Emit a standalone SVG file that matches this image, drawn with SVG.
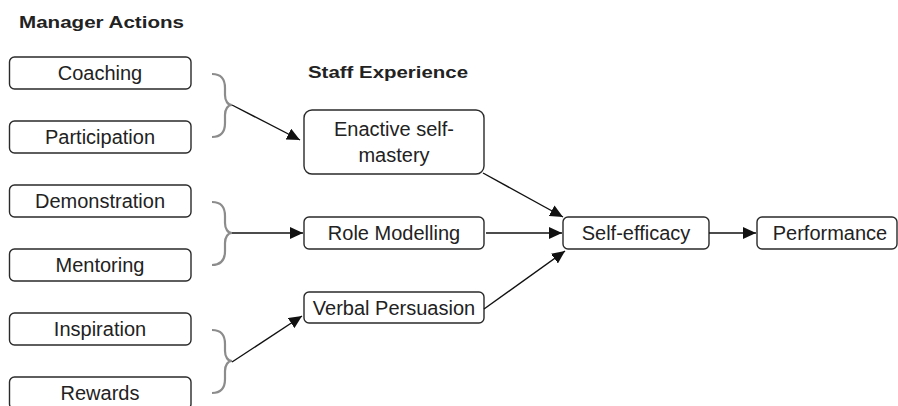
<svg xmlns="http://www.w3.org/2000/svg" xmlns:xlink="http://www.w3.org/1999/xlink" width="898" height="406" viewBox="0 0 898 406">
<style>
.box{fill:#fff;stroke:#2a2a2a;stroke-width:1.4}
.t{font-family:"Liberation Sans",Arial,sans-serif;font-size:20px;fill:#222;text-anchor:middle}
.h{font-family:"Liberation Sans",Arial,sans-serif;font-size:16.5px;font-weight:bold;fill:#222}
.brace{fill:none;stroke:#8c8c8c;stroke-width:2.2}
.c{fill:none;stroke:#111;stroke-width:1.4}
</style>
<defs>
<marker id="ah" markerUnits="userSpaceOnUse" markerWidth="14" markerHeight="12" refX="13" refY="6" orient="auto">
<path d="M0,0 L13,6 L0,12 z" fill="#111"/>
</marker>
<path id="br" d="M0,-31 C10,-31 13,-25 13,-17 L13,-10 C13,-4 16,0 20,0 C16,0 13,4 13,10 L13,18 C13,26 10,32 0,32"/>
</defs>
<rect width="898" height="406" fill="#fff"/>
<text class="h" x="19" y="28" textLength="165" lengthAdjust="spacingAndGlyphs">Manager Actions</text>
<text class="h" x="308" y="78" textLength="160" lengthAdjust="spacingAndGlyphs">Staff Experience</text>
<g id="coaching"><rect class="box" x="9.5" y="57" width="181.5" height="32" rx="5"/><text class="t" x="100" y="80">Coaching</text></g>
<g id="participation"><rect class="box" x="9.5" y="121" width="181.5" height="32" rx="5"/><text class="t" x="100" y="144">Participation</text></g>
<g id="demonstration"><rect class="box" x="9.5" y="185" width="181.5" height="32" rx="5"/><text class="t" x="100" y="208">Demonstration</text></g>
<g id="mentoring"><rect class="box" x="9.5" y="249" width="181.5" height="32" rx="5"/><text class="t" x="100" y="272">Mentoring</text></g>
<g id="inspiration"><rect class="box" x="9.5" y="313" width="181.5" height="32" rx="5"/><text class="t" x="100" y="336">Inspiration</text></g>
<g id="rewards"><rect class="box" x="9.5" y="377" width="181.5" height="32" rx="5"/><text class="t" x="100" y="400">Rewards</text></g>
<g id="braces">
<use xlink:href="#br" class="brace" transform="translate(212,105)"/>
<use xlink:href="#br" class="brace" transform="translate(212,233)"/>
<use xlink:href="#br" class="brace" transform="translate(212,361)"/>
</g>
<g id="enactive"><rect class="box" x="304" y="110" width="180" height="64" rx="8"/><text class="t" x="394" y="136">Enactive self-</text><text class="t" x="394" y="162">mastery</text></g>
<g id="role"><rect class="box" x="304" y="217" width="180" height="32" rx="5"/><text class="t" x="394" y="240">Role Modelling</text></g>
<g id="verbal"><rect class="box" x="304" y="292" width="180" height="31" rx="5"/><text class="t" x="394" y="315">Verbal Persuasion</text></g>
<g id="selfefficacy"><rect class="box" x="563" y="217" width="146" height="32" rx="5"/><text class="t" x="636" y="240">Self-efficacy</text></g>
<g id="performance"><rect class="box" x="757" y="217" width="140" height="32" rx="5"/><text class="t" x="830" y="240">Performance</text></g>
<g id="connectors">
<line class="c" x1="232" y1="105" x2="300" y2="140" marker-end="url(#ah)"/>
<line class="c" x1="232" y1="233" x2="303" y2="233" marker-end="url(#ah)"/>
<line class="c" x1="232" y1="362" x2="302" y2="316" marker-end="url(#ah)"/>
<line class="c" x1="483" y1="173" x2="563" y2="217" marker-end="url(#ah)"/>
<line class="c" x1="486" y1="233" x2="562" y2="233" marker-end="url(#ah)"/>
<line class="c" x1="484" y1="309" x2="565" y2="251" marker-end="url(#ah)"/>
<line class="c" x1="709" y1="233" x2="756" y2="233" marker-end="url(#ah)"/>
</g>
</svg>
